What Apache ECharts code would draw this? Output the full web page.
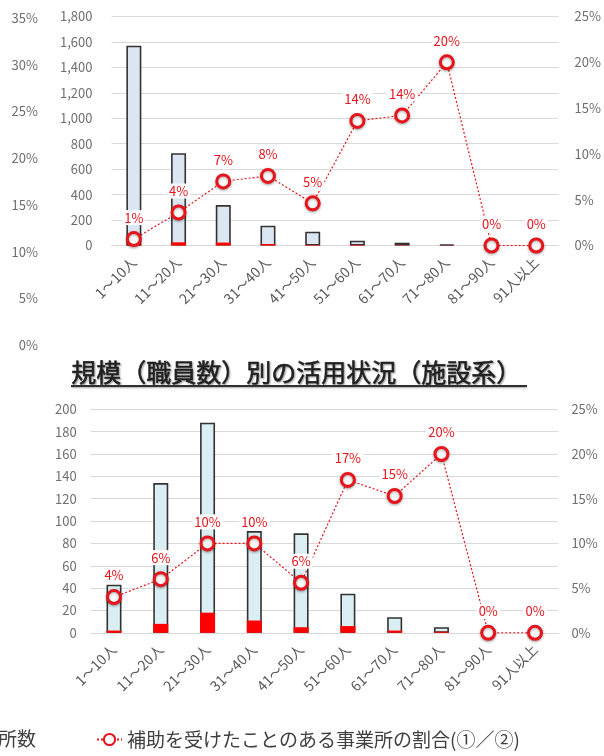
<!DOCTYPE html>
<html>
<head>
<meta charset="utf-8">
<script src="https://cdn.jsdelivr.net/npm/echarts@6/dist/echarts.min.js"></script>
<style>
  html, body { margin: 0; padding: 0; background: #fff; }
  #chart { width: 604px; height: 756px; }
</style>
</head>
<body>
<div id="chart"></div>
<script>
// Staff-size bands shared by both panels
const categories = ['1～10人', '11～20人', '21～30人', '31～40人', '41～50人',
                    '51～60人', '61～70人', '71～80人', '81～90人', '91人以上'];

// Upper panel: offices (②), offices that received support (①), ratio in %
const upperOffices   = [1570, 725, 318, 156, 108, 38, 22, 9, 0, 0];
const upperSupported = [13, 25, 23, 12, 5, 5, 3, 2, 0, 0];
const upperRatio     = [0.7, 3.6, 7.0, 7.6, 4.6, 13.6, 14.2, 20.0, 0, 0];

// Lower panel (facility type)
const lowerOffices   = [43, 134, 188, 91, 89, 35, 14, 5, 0, 0];
const lowerSupported = [2, 8, 18, 11, 5, 6, 2, 1, 0, 0];
const lowerRatio     = [4.0, 6.0, 10.0, 10.0, 5.6, 17.1, 15.3, 20.0, 0, 0];

// Tick labels of the partial percentage scale at the far left
const sideTicks = ['0%', '5%', '10%', '15%', '20%', '25%', '30%', '35%'];

const panelTitle = '規模（職員数）別の活用状況（施設系）';
const ratioName = '補助を受けたことのある事業所の割合(①／②)';

const FONT = '"Noto Sans CJK JP", "Noto Sans", sans-serif';
const AXIS_GRAY = '#6f6f6f';
const RED = '#e8141b';

const chart = echarts.init(document.getElementById('chart'), null, { renderer: 'canvas' });

function categoryAxis(gridIndex) {
  return {
    type: 'category', gridIndex, data: categories,
    axisLine: { show: true, lineStyle: { color: '#d9d9d9' } },
    axisTick: { show: false },
    axisLabel: { rotate: 45, interval: 0, color: '#5a5a5a', fontSize: 14, fontFamily: FONT, margin: 14 }
  };
}
function valueAxis(gridIndex, max, interval, fmt, split, margin) {
  return {
    type: 'value', gridIndex, min: 0, max, interval,
    axisLine: { show: false }, axisTick: { show: false },
    splitLine: { show: split, lineStyle: { color: '#d9d9d9', width: 1 } },
    axisLabel: { color: AXIS_GRAY, fontSize: 13, fontFamily: FONT, margin, formatter: fmt }
  };
}
const thousands = v => v.toLocaleString('en-US');
const pct = v => v + '%';

function barPair(xi, yi, offices, supported, fill) {
  return [
    {
      type: 'bar', xAxisIndex: xi, yAxisIndex: yi, data: offices, barWidth: 15, barGap: '-100%',
      itemStyle: { color: fill, borderColor: '#333333', borderWidth: 1.6 }, z: 2
    },
    {
      type: 'bar', xAxisIndex: xi, yAxisIndex: yi, data: supported, barWidth: 15, barGap: '-100%',
      itemStyle: { color: '#ff0000' }, z: 3
    }
  ];
}
function ratioLine(xi, yi, values) {
  return {
    name: ratioName, type: 'line', xAxisIndex: xi, yAxisIndex: yi, data: values, z: 5,
    symbol: 'circle', symbolSize: 13,
    lineStyle: { color: RED, width: 1.2, type: [2, 2] },
    itemStyle: { color: '#fff', borderColor: RED, borderWidth: 3,
                 shadowColor: 'rgba(0,0,0,0.35)', shadowBlur: 3, shadowOffsetY: 1 },
    label: {
      show: true, position: 'top', distance: 6, color: RED, fontSize: 13, fontFamily: FONT,
      backgroundColor: '#fff', padding: [1, 2],
      formatter: p => Math.round(p.value) + '%'
    }
  };
}

const option = {
  animation: false,
  textStyle: { fontFamily: FONT },
  grid: [
    { left: 111.5, right: 43.5, top: 16.5, height: 229 },
    { left: 90.6, right: 45.6, top: 409.3, height: 223.5 },
    { left: 46, width: 10, top: 18, height: 327 }
  ],
  xAxis: [
    categoryAxis(0),
    categoryAxis(1),
    { type: 'category', gridIndex: 2, data: [''], show: false }
  ],
  yAxis: [
    valueAxis(0, 1800, 200, thousands, true, 19),
    valueAxis(0, 25, 5, pct, false, 16),
    valueAxis(1, 200, 20, null, true, 14),
    valueAxis(1, 25, 5, pct, false, 13),
    {
      type: 'category', gridIndex: 2, data: sideTicks, boundaryGap: false,
      axisLine: { show: false }, axisTick: { show: false }, splitLine: { show: false },
      axisLabel: { color: AXIS_GRAY, fontSize: 13, fontFamily: FONT, margin: 8 }
    }
  ],
  legend: {
    data: [ratioName], left: 96, top: 730, padding: 0, itemWidth: 25, itemHeight: 14, itemGap: 6,
    textStyle: { color: '#404040', fontSize: 19, fontFamily: FONT }
  },
  series: [
    ...barPair(0, 0, upperOffices, upperSupported, '#dce6f2'),
    ratioLine(0, 1, upperRatio),
    ...barPair(1, 2, lowerOffices, lowerSupported, '#daeef3'),
    ratioLine(1, 3, lowerRatio)
  ],
  graphic: [
    {
      type: 'text', left: 71, top: 360,
      style: {
        text: panelTitle, fill: '#1f1f1f', font: 'normal 25px ' + FONT,
        stroke: '#1f1f1f', lineWidth: 0.5,
        textShadowColor: 'rgba(0,0,0,0.4)', textShadowBlur: 2, textShadowOffsetX: 1, textShadowOffsetY: 1
      }
    },
    {
      type: 'line', shape: { x1: 71, y1: 386, x2: 527, y2: 386 },
      style: { stroke: '#303030', lineWidth: 2, shadowColor: 'rgba(0,0,0,0.35)', shadowBlur: 2, shadowOffsetY: 1 }
    },
    {
      type: 'text', left: -2, top: 729,
      style: { text: '所数', fill: '#404040', font: '19px ' + FONT }
    }
  ]
};

chart.setOption(option);
</script>
</body>
</html>
